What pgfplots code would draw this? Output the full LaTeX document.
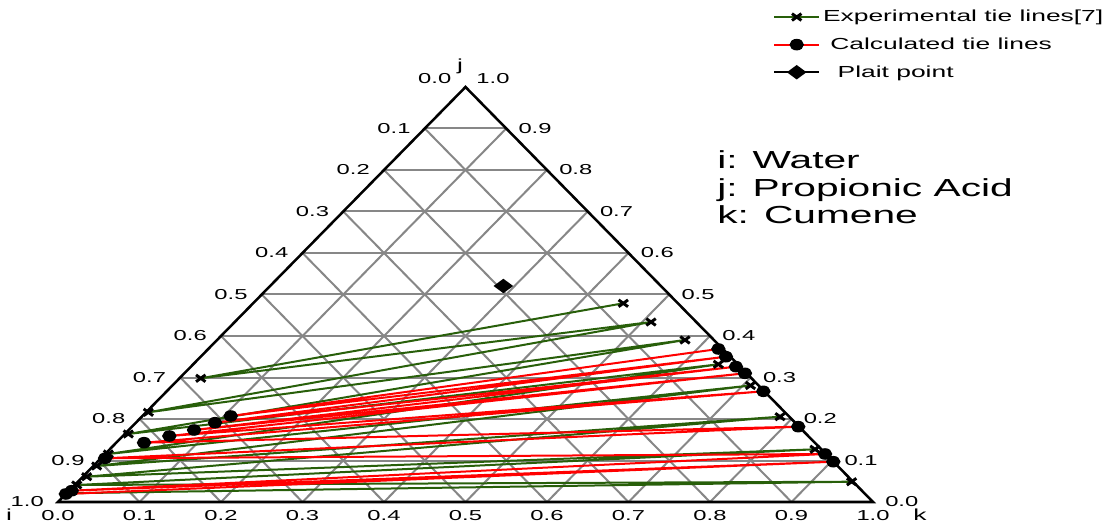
\documentclass[border=0pt]{standalone}
\usepackage{pgfplots}
\usepackage{pgfplotstable}
\pgfplotsset{compat=1.18}
\usepackage{fontspec}
\setmainfont{Liberation Sans}[FakeStretch=1.65]
\definecolor{expgreen}{RGB}{40,95,10}
\definecolor{gridgray}{RGB}{135,135,135}
\newcommand{\tickfont}{\fontsize{10.8}{12}\selectfont}
\newcommand{\Lt}[3]{\node[anchor=east,font=\tickfont,inner sep=0pt,xshift=-10.5pt] at (axis cs:#1,#2) {#3};}
\newcommand{\Rt}[3]{\node[anchor=west,font=\tickfont,inner sep=0pt,xshift=9pt] at (axis cs:#1,#2) {#3};}
\newcommand{\Bt}[2]{\node[anchor=north,font=\tickfont,inner sep=0pt,yshift=-6.5pt] at (axis cs:#1,0) {#2};}
% experimental data (k = cumene, j = propionic acid), in plotting order
\pgfplotstableread{
k j
0.4542 0.4788
0.0261 0.2981
0.5108 0.4337
0.0028 0.2161
0.5741 0.3904
0.0043 0.1639
0.6443 0.3318
0.0039 0.1157
0.7093 0.2807
0.0041 0.0867
0.7831 0.2056
0.0047 0.0610
0.8653 0.1270
0.0025 0.0410
0.9493 0.0489
0.0002 0.0210
}\expdata
% calculated data, in plotting order
\pgfplotstableread{
k j
0.6259 0.3687
0.1083 0.2072
0.6445 0.3501
0.0971 0.1911
0.6688 0.3261
0.0802 0.1735
0.6878 0.3101
0.0571 0.1590
0.7321 0.2667
0.0341 0.1429
0.8175 0.1815
0.0051 0.1053
0.8833 0.1157
0.0032 0.0272
0.9027 0.0971
0.0000 0.0193
}\caldata
\begin{document}
\begin{tikzpicture}
\begin{axis}[
  scale only axis, width=611.25pt, height=311.25pt,
  xmin=0, xmax=1, ymin=0, ymax=1, hide axis, clip=false,
  legend style={at={(axis cs:0.877,1.192)}, anchor=north west, draw=none, fill=none,
    font=\fontsize{12}{14}\selectfont, row sep=6.5pt, cells={anchor=west}, inner sep=0pt},
  legend image code/.code={\draw[mark repeat=2,mark phase=2] plot coordinates {(0pt,0pt) (17pt,0pt) (34pt,0pt)};},
]
% grid
\pgfplotsinvokeforeach{1,...,9}{
  \draw[gridgray, line width=1.5pt] (axis cs:{#1*0.05},{#1*0.1}) -- (axis cs:{1-#1*0.05},{#1*0.1});
  \draw[gridgray, line width=1.5pt] (axis cs:{#1*0.1},0) -- (axis cs:{0.5+#1*0.05},{1-#1*0.1});
  \draw[gridgray, line width=1.5pt] (axis cs:{1-#1*0.1},0) -- (axis cs:{0.5-#1*0.05},{1-#1*0.1});
}
\draw[black, line width=1.9pt] (axis cs:0,0) -- (axis cs:1,0) -- (axis cs:0.5,1) -- cycle;

% experimental tie lines
\addplot[expgreen, line width=1.5pt, mark=x, mark size=5pt,
  mark options={black, line width=2.2pt, yscale=0.72}]
  table[x expr={\thisrow{k}+0.5*\thisrow{j}}, y=j] {\expdata};
\addlegendentry{Experimental tie lines[7]}

% calculated tie lines
\addplot[red, line width=1.5pt, mark=*, mark size=4.6pt,
  mark options={black, yscale=0.78}]
  table[x expr={\thisrow{k}+0.5*\thisrow{j}}, y=j] {\caldata};
\addlegendentry{\ Calculated tie lines}

% plait point
\addplot[black, line width=1.5pt, mark=diamond*, mark size=4.5pt, mark options={xscale=1.8}]
  table[x expr={\thisrow{k}+0.5*\thisrow{j}}, y=j] {
k j
0.2862 0.5205
};
\addlegendentry{\ \ Plait point}

% tick labels, left side (i)
\Lt{0}{0}{1.0}
\Lt{0.05}{0.1}{0.9}
\Lt{0.1}{0.2}{0.8}
\Lt{0.15}{0.3}{0.7}
\Lt{0.2}{0.4}{0.6}
\Lt{0.25}{0.5}{0.5}
\Lt{0.3}{0.6}{0.4}
\Lt{0.35}{0.7}{0.3}
\Lt{0.4}{0.8}{0.2}
\Lt{0.45}{0.9}{0.1}
\node[anchor=east,font=\tickfont,inner sep=0pt,xshift=-10.5pt,yshift=6.5pt] at (axis cs:0.5,1) {0.0};
% right side (j)
\Rt{1}{0}{0.0}
\Rt{0.95}{0.1}{0.1}
\Rt{0.9}{0.2}{0.2}
\Rt{0.85}{0.3}{0.3}
\Rt{0.8}{0.4}{0.4}
\Rt{0.75}{0.5}{0.5}
\Rt{0.7}{0.6}{0.6}
\Rt{0.65}{0.7}{0.7}
\Rt{0.6}{0.8}{0.8}
\Rt{0.55}{0.9}{0.9}
\node[anchor=west,font=\tickfont,inner sep=0pt,xshift=8pt,yshift=6.5pt] at (axis cs:0.5,1) {1.0};
% bottom (k)
\Bt{0}{0.0}
\Bt{0.1}{0.1}
\Bt{0.2}{0.2}
\Bt{0.3}{0.3}
\Bt{0.4}{0.4}
\Bt{0.5}{0.5}
\Bt{0.6}{0.6}
\Bt{0.7}{0.7}
\Bt{0.8}{0.8}
\Bt{0.9}{0.9}
\Bt{1}{1.0}
% vertex labels
\node[font=\fontsize{12}{14}\selectfont, inner sep=0pt] at (axis cs:0.4933,1.0506) {j};
\node[font=\fontsize{12}{14}\selectfont, inner sep=0pt, anchor=south] at (axis cs:-0.060,-0.046) {i};
\node[font=\fontsize{12}{14}\selectfont, inner sep=0pt, anchor=south] at (axis cs:1.0577,-0.046) {k};
% component names
\node[anchor=base west, font=\fontsize{18.5}{20}\selectfont, inner sep=0pt] at (axis cs:0.8086,0.8048) {i: Water};
\node[anchor=base west, font=\fontsize{18.5}{20}\selectfont, inner sep=0pt] at (axis cs:0.8086,0.7373) {j: Propionic Acid};
\node[anchor=base west, font=\fontsize{18.5}{20}\selectfont, inner sep=0pt] at (axis cs:0.8086,0.6699) {k: Cumene};
% frame of the picture
\coordinate (BBl) at (axis cs:-0.07117,-0.05301);
\coordinate (BBr) at (axis cs:1.29325,1.20964);
\end{axis}
\pgfresetboundingbox
\path[use as bounding box] (BBl) rectangle (BBr);
\end{tikzpicture}
\end{document}
